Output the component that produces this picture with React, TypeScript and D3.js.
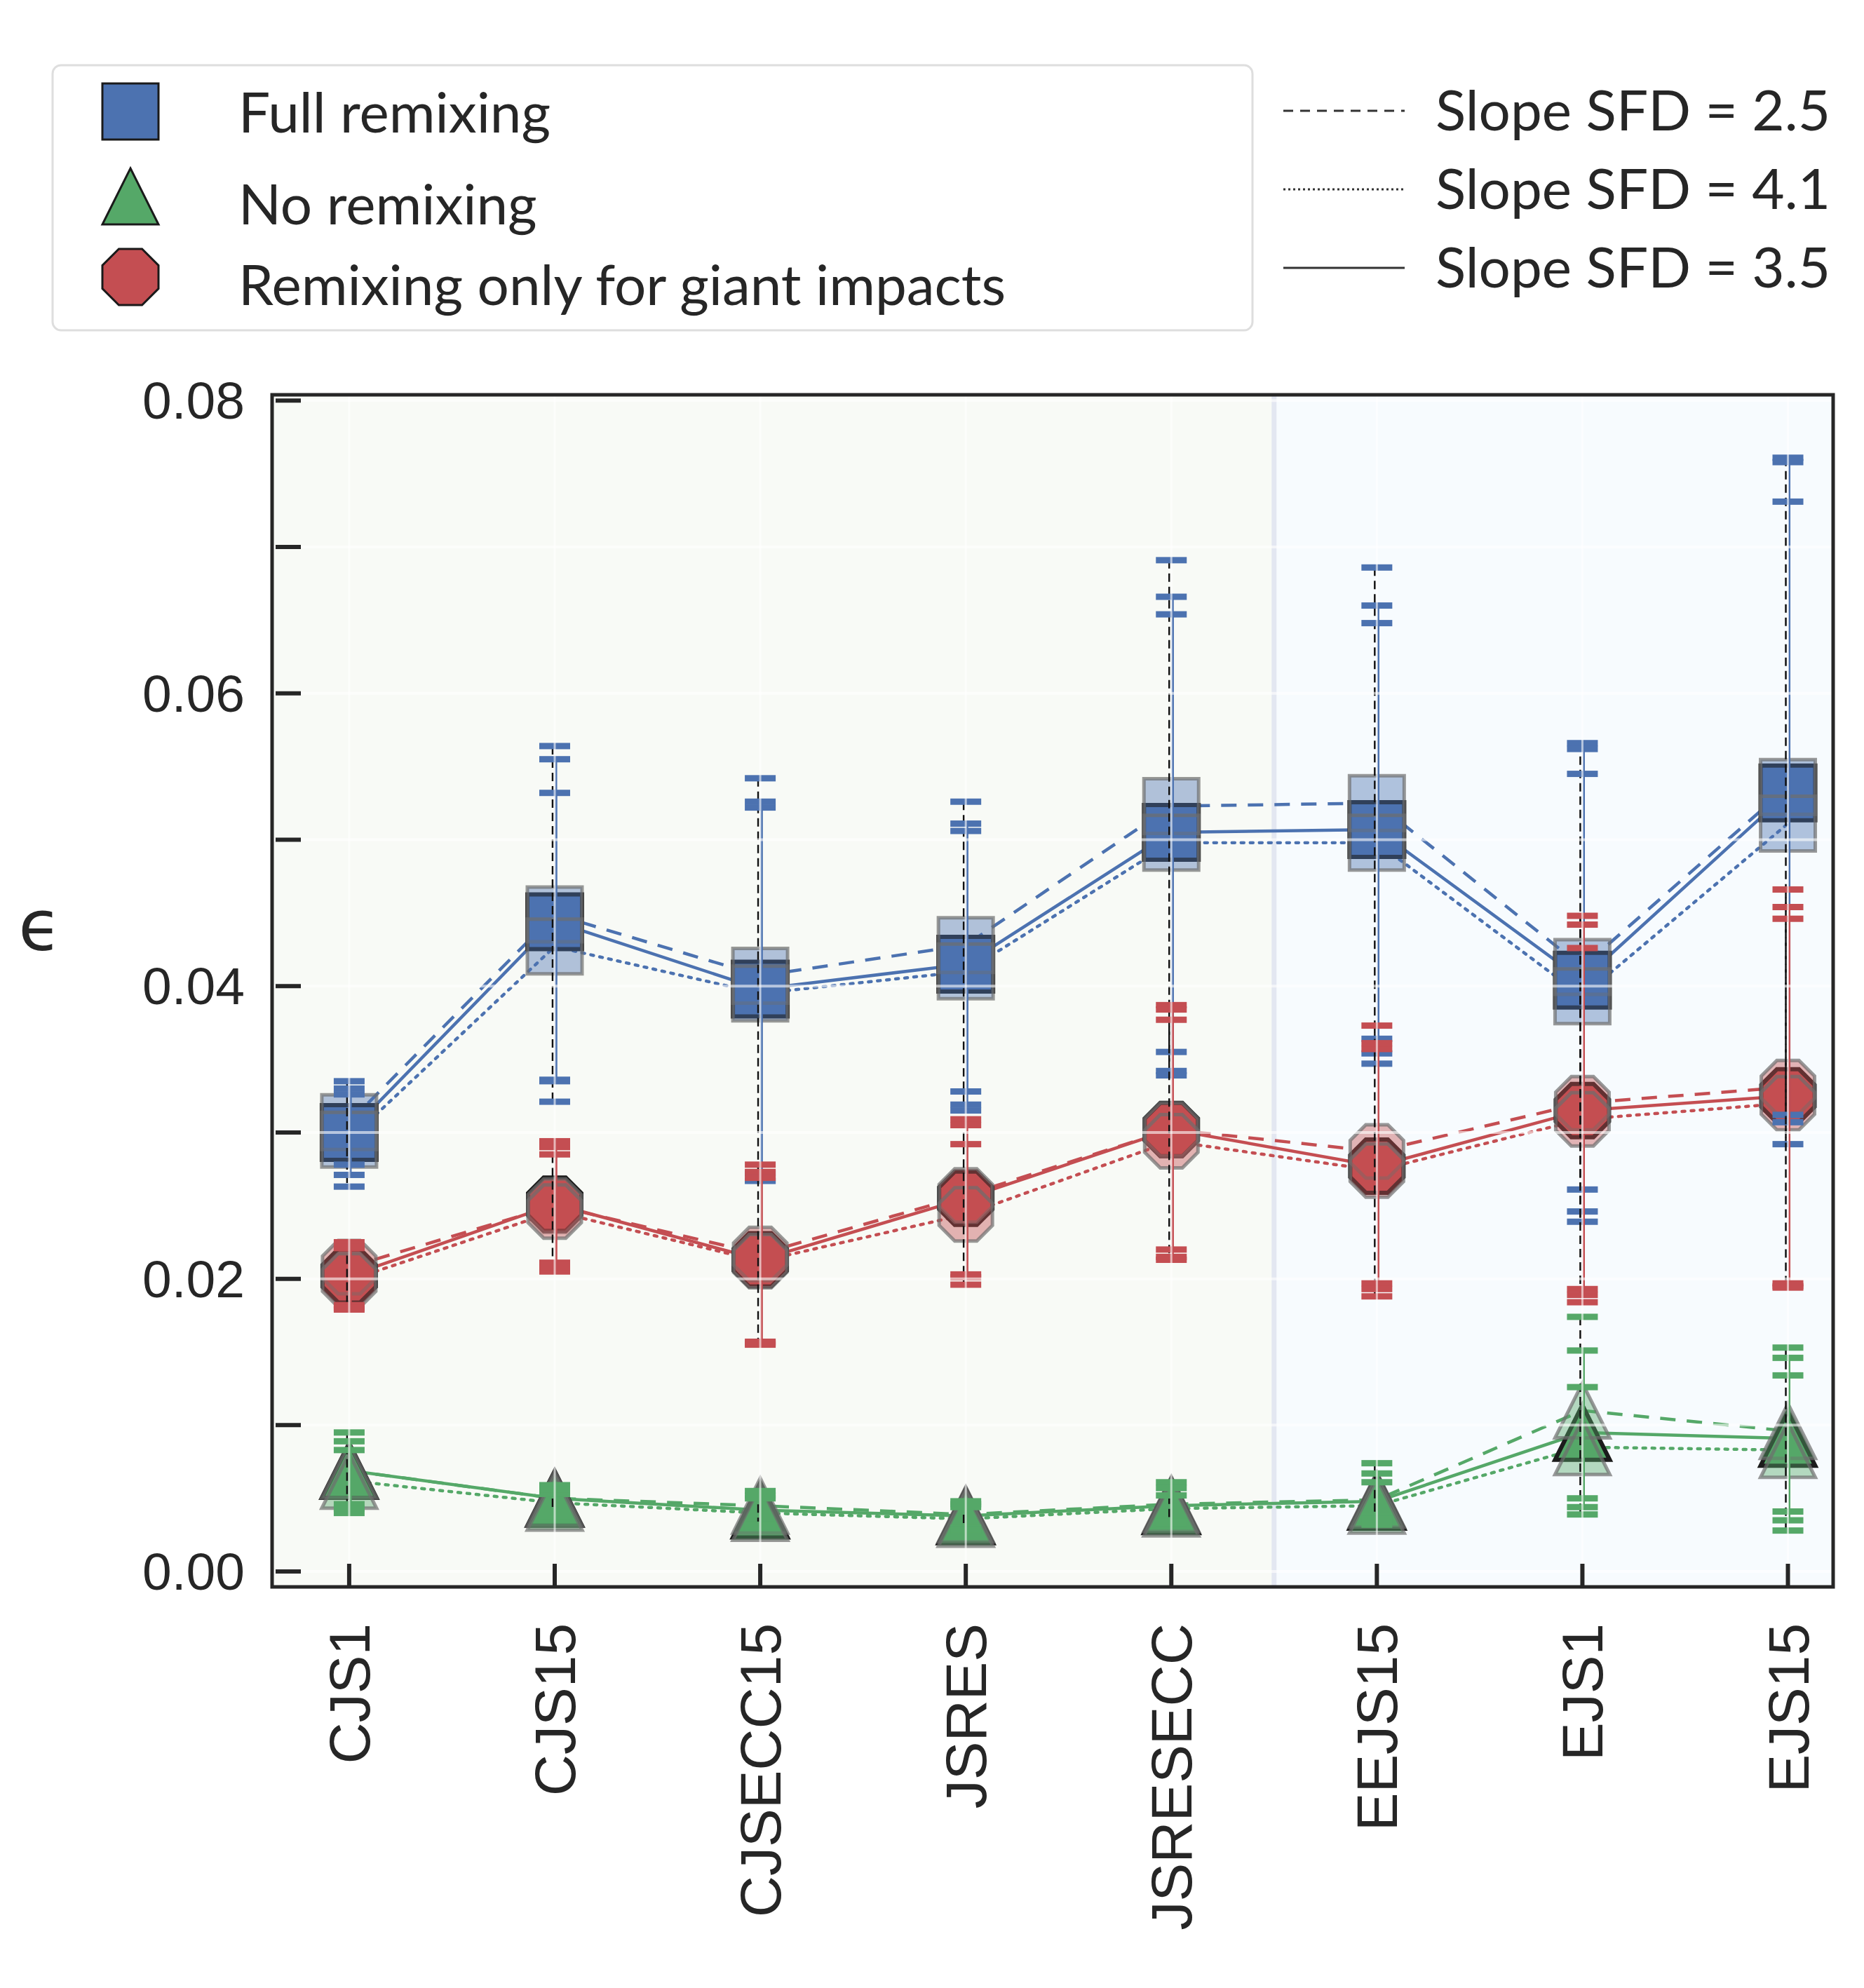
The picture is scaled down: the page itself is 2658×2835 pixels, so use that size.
import React from "react";
import * as d3 from "d3";

const CATEGORIES = ["CJS1", "CJS15", "CJSECC15", "JSRES", "JSRESECC", "EEJS15", "EJS1", "EJS15"];
const Y_TICK_LABELS = [0, 0.02, 0.04, 0.06, 0.08];

// Full remixing, one array per SFD slope
const FULL_S25 = [0.0307, 0.0449, 0.0407, 0.0428, 0.0523, 0.0525, 0.0413, 0.0536];
const FULL_S41 = [0.0295, 0.0427, 0.0395, 0.041, 0.0498, 0.0498, 0.0393, 0.0511];
const FULL_S35 = [0.03, 0.0444, 0.0398, 0.0415, 0.0505, 0.0507, 0.0404, 0.0532];
const FULL_S25_HI = [0.0335, 0.0564, 0.0542, 0.0526, 0.0691, 0.0686, 0.0566, 0.0761];
const FULL_S35_HI = [0.033, 0.0555, 0.0526, 0.0511, 0.0666, 0.066, 0.0562, 0.0758];
const FULL_S41_HI = [0.0326, 0.0532, 0.0522, 0.0506, 0.0654, 0.0648, 0.0545, 0.0731];
const FULL_S25_LO = [0.0263, 0.0321, 0.0267, 0.0315, 0.0339, 0.0347, 0.0239, 0.0292];
const FULL_S35_LO = [0.0271, 0.0335, 0.0267, 0.0319, 0.0342, 0.0354, 0.0246, 0.0307];
const FULL_S41_LO = [0.0278, 0.0336, 0.0272, 0.0328, 0.0355, 0.0364, 0.0261, 0.0312];

// No remixing
const NONE_S25 = [0.0069, 0.005, 0.0045, 0.0039, 0.0046, 0.0049, 0.011, 0.0096];
const NONE_S41 = [0.0062, 0.0047, 0.004, 0.0036, 0.0043, 0.0045, 0.0085, 0.0083];
const NONE_S35 = [0.0069, 0.005, 0.0042, 0.0038, 0.0045, 0.0048, 0.0095, 0.0091];
const NONE_S25_HI = [0.0095, 0.0059, 0.0055, 0.0048, 0.0061, 0.0074, 0.0174, 0.0153];
const NONE_S35_HI = [0.0089, 0.0056, 0.0052, 0.0046, 0.0057, 0.0067, 0.0151, 0.0146];
const NONE_S41_HI = [0.0083, 0.0053, 0.005, 0.0044, 0.0052, 0.0061, 0.0126, 0.0134];
const NONE_S25_LO = [0.004, 0.0036, 0.003, 0.0028, 0.0033, 0.0032, 0.0039, 0.0028];
const NONE_S35_LO = [0.0043, 0.0038, 0.0031, 0.0029, 0.0034, 0.0036, 0.0044, 0.0035];
const NONE_S41_LO = [0.0046, 0.004, 0.0032, 0.003, 0.0035, 0.0038, 0.005, 0.0041];

// Remixing only for giant impacts
const GIANT_S25 = [0.0208, 0.025, 0.0217, 0.0257, 0.0302, 0.0287, 0.032, 0.0331];
const GIANT_S41 = [0.0199, 0.0246, 0.0212, 0.0244, 0.0294, 0.0274, 0.0309, 0.032];
const GIANT_S35 = [0.0202, 0.0251, 0.0213, 0.0255, 0.0302, 0.0277, 0.0315, 0.0325];
const GIANT_S25_HI = [0.0225, 0.0294, 0.0278, 0.0309, 0.0387, 0.0373, 0.0448, 0.0466];
const GIANT_S35_HI = [0.0222, 0.029, 0.0273, 0.0305, 0.0384, 0.0361, 0.0442, 0.0454];
const GIANT_S41_HI = [0.0221, 0.0285, 0.0269, 0.0292, 0.0377, 0.0357, 0.0426, 0.0446];
const GIANT_S25_LO = [0.0179, 0.0205, 0.0155, 0.0196, 0.0213, 0.0188, 0.0184, 0.0194];
const GIANT_S35_LO = [0.018, 0.0208, 0.0156, 0.0201, 0.0215, 0.0193, 0.0189, 0.0195];
const GIANT_S41_LO = [0.0182, 0.0211, 0.0157, 0.0203, 0.022, 0.0197, 0.0193, 0.0197];

const BLUE = "#4c72b0";
const GREEN = "#55a868";
const RED = "#c44e52";
const INK = "#262626";

type Marker = "square" | "triangle" | "octagon";

const SERIES = [
  {
    name: "Full remixing", color: BLUE, marker: "square" as Marker, size: 78,
    s25: FULL_S25, s41: FULL_S41, s35: FULL_S35,
    hi: { s25: FULL_S25_HI, s41: FULL_S41_HI, s35: FULL_S35_HI },
    lo: { s25: FULL_S25_LO, s41: FULL_S41_LO, s35: FULL_S35_LO },
  },
  {
    name: "No remixing", color: GREEN, marker: "triangle" as Marker, size: 78,
    s25: NONE_S25, s41: NONE_S41, s35: NONE_S35,
    hi: { s25: NONE_S25_HI, s41: NONE_S41_HI, s35: NONE_S35_HI },
    lo: { s25: NONE_S25_LO, s41: NONE_S41_LO, s35: NONE_S35_LO },
  },
  {
    name: "Remixing only for giant impacts", color: RED, marker: "octagon" as Marker, size: 76,
    s25: GIANT_S25, s41: GIANT_S41, s35: GIANT_S35,
    hi: { s25: GIANT_S25_HI, s41: GIANT_S41_HI, s35: GIANT_S35_HI },
    lo: { s25: GIANT_S25_LO, s41: GIANT_S41_LO, s35: GIANT_S35_LO },
  },
];

const SLOPES = [
  { key: "s25" as const, label: "Slope SFD = 2.5", dash: "22 16", legendDash: "14 10" },
  { key: "s41" as const, label: "Slope SFD = 4.1", dash: "4 9", legendDash: "3 4" },
  { key: "s35" as const, label: "Slope SFD = 3.5", dash: undefined, legendDash: undefined },
];

function markerPath(kind: Marker, size: number): string {
  const h = size / 2;
  if (kind === "square") return `M${-h},${-h}H${h}V${h}H${-h}Z`;
  if (kind === "triangle") return `M0,${-h}L${h},${h}L${-h},${h}Z`;
  const r = h / Math.cos(Math.PI / 8);
  const pts = d3.range(8).map((k) => {
    const a = Math.PI / 8 + (k * Math.PI) / 4;
    return `${(r * Math.cos(a)).toFixed(2)},${(r * Math.sin(a)).toFixed(2)}`;
  });
  return "M" + pts.join("L") + "Z";
}

export default function App() {
  const W = 2658;
  const H = 2835;
  const left = 388, right = 2614, top = 563, bottom = 2263;

  const x = d3.scaleLinear().domain([-0.375, 7.22]).range([left, right]);
  const y = d3.scaleLinear().domain([-0.00105, 0.0804]).range([bottom, top]);
  const gridY = y.ticks(8);
  const fmt = d3.format(".2f");

  const line = d3
    .line<number>()
    .x((_, i) => x(i))
    .y((d) => y(d));

  const split = x(4.5);

  return (
    <div>
      <style>{`body{margin:0;background:#fff}`}</style>
      <svg width={W} height={H} style={{ display: "block" }}>
        <rect x={0} y={0} width={W} height={H} fill="#ffffff" />

        {/* legend: remixing models */}
        <rect x={75} y={93} width={1711} height={378} rx={12} fill="#fff" stroke="#dedede" strokeWidth={3} />
        {SERIES.map((s, i) => {
          const cy = [159, 280, 395][i];
          const ty = [158, 289, 404][i];
          return (
            <g key={s.name}>
              <path
                d={markerPath(s.marker, 80)}
                transform={`translate(186,${cy})`}
                fill={s.color}
                stroke="#1a1a1a"
                strokeWidth={3}
              />
              <text
                x={340}
                y={ty}
                fontFamily="Lato, 'Open Sans', sans-serif"
                fontSize={80}
                fill={INK}
                dominantBaseline="central"
              >
                {s.name}
              </text>
            </g>
          );
        })}

        {/* legend: SFD slopes */}
        {SLOPES.map((sl, i) => {
          const cy = [158, 270, 382][i];
          return (
            <g key={sl.key}>
              <line x1={1830} x2={2003} y1={cy} y2={cy} stroke="#333" strokeWidth={3} strokeDasharray={sl.legendDash} />
              <text
                x={2047}
                y={cy - 3}
                fontFamily="Lato, 'Open Sans', sans-serif"
                fontSize={80}
                fill={INK}
                dominantBaseline="central"
              >
                {sl.label}
              </text>
            </g>
          );
        })}

        {/* plot backgrounds */}
        <rect x={left} y={top} width={split - left} height={bottom - top} fill="#f8faf6" />
        <rect x={split} y={top} width={right - split} height={bottom - top} fill="#f7fbfe" />
        <line x1={split} x2={split} y1={top} y2={bottom} stroke="#e3e7f1" strokeWidth={7} />

        {/* connecting lines */}
        {SERIES.map((s) =>
          SLOPES.map((sl) => (
            <path
              key={s.name + sl.key}
              d={line(s[sl.key]) || ""}
              fill="none"
              stroke={s.color}
              strokeWidth={4.5}
              strokeDasharray={sl.dash}
              strokeLinecap={sl.key === "s41" ? "round" : "butt"}
            />
          ))
        )}

        {/* markers: solid-slope marker opaque, the others translucent on top */}
        {SERIES.map((s) => (
          <g key={s.name + "m"}>
            {s.s35.map((v, i) => (
              <path
                key={"o" + i}
                d={markerPath(s.marker, s.size)}
                transform={`translate(${x(i)},${y(v)})`}
                fill={s.color}
                stroke="#1c1c1c"
                strokeWidth={6}
                strokeLinejoin="miter"
              />
            ))}
            {(["s25", "s41"] as const).map((k) =>
              s[k].map((v, i) => (
                <path
                  key={k + i}
                  d={markerPath(s.marker, s.size)}
                  transform={`translate(${x(i)},${y(v)})`}
                  fill={s.color}
                  fillOpacity={0.42}
                  stroke="#6e6e6e"
                  strokeOpacity={0.7}
                  strokeWidth={5}
                />
              ))
            )}
          </g>
        ))}

        {/* error bars */}
        {SERIES.map((s) =>
          SLOPES.map((sl) =>
            CATEGORIES.map((_, i) => {
              const hi = s.hi[sl.key][i];
              const lo = s.lo[sl.key][i];
              const cx = x(i);
              const dashed = sl.key === "s25";
              return (
                <g key={s.name + sl.key + i}>
                  <line
                    x1={dashed ? cx - 3 : cx + 2}
                    x2={dashed ? cx - 3 : cx + 2}
                    y1={y(hi)}
                    y2={y(lo)}
                    stroke={dashed ? "#111" : s.color}
                    strokeWidth={dashed ? 2.5 : 3}
                    strokeDasharray={dashed ? "12 7" : undefined}
                  />
                  {[hi, lo].map((v, j) => (
                    <rect key={j} x={cx - 22} y={y(v) - 4.5} width={44} height={9} fill={s.color} />
                  ))}
                </g>
              );
            })
          )
        )}

        {/* white grid over the data */}
        {gridY.map((t) => (
          <line key={"gy" + t} x1={left} x2={right} y1={y(t)} y2={y(t)} stroke="#fff" strokeOpacity={0.6} strokeWidth={4} />
        ))}
        {CATEGORIES.map((c, i) => (
          <line key={"gx" + c} x1={x(i)} x2={x(i)} y1={top} y2={bottom} stroke="#fff" strokeOpacity={0.6} strokeWidth={3} />
        ))}

        {/* ticks */}
        {gridY.map((t) => (
          <line key={"ty" + t} x1={left + 5} x2={left + 41} y1={y(t)} y2={y(t)} stroke={INK} strokeWidth={6} />
        ))}
        {CATEGORIES.map((c, i) => (
          <line key={"tx" + c} x1={x(i)} x2={x(i)} y1={bottom} y2={bottom - 33} stroke={INK} strokeWidth={6} />
        ))}

        {/* frame */}
        <rect x={left} y={top} width={right - left} height={bottom - top} fill="none" stroke={INK} strokeWidth={5} />

        {/* tick labels */}
        {Y_TICK_LABELS.map((t) => (
          <text
            key={"ly" + t}
            x={349}
            y={y(t)}
            textAnchor="end"
            dominantBaseline="central"
            fontFamily="'Liberation Sans', Arial, sans-serif"
            fontSize={75}
            fill={INK}
          >
            {fmt(t)}
          </text>
        ))}
        {CATEGORIES.map((c, i) => (
          <text
            key={"lx" + c}
            transform={`translate(${x(i) + 29},${bottom + 52}) rotate(-90)`}
            textAnchor="end"
            fontFamily="'Liberation Sans', Arial, sans-serif"
            fontSize={82}
            fill={INK}
          >
            {c}
          </text>
        ))}

        {/* y label */}
        <text
          x={57}
          y={1320}
          textAnchor="middle"
          dominantBaseline="central"
          fontFamily="'DejaVu Sans', sans-serif"
          fontSize={100}
          fill={INK}
        >
          ϵ
        </text>
      </svg>
    </div>
  );
}
